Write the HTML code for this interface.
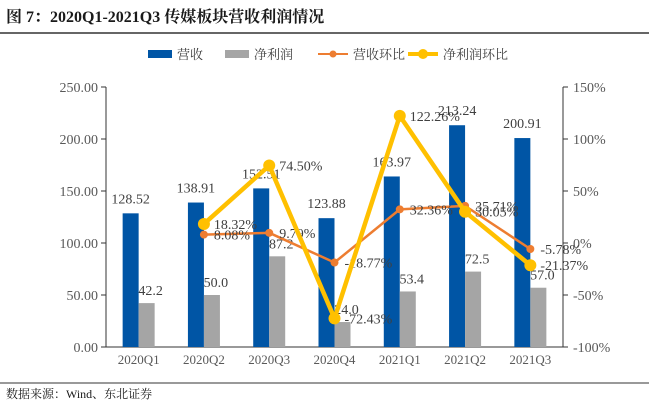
<!DOCTYPE html>
<html><head><meta charset="utf-8"><style>
body{margin:0;background:#fff;width:649px;height:402px;overflow:hidden;font-family:"Liberation Serif","Noto Serif CJK SC",serif}
</style></head><body>
<svg width="649" height="402" id="c" font-family="Liberation Serif, Noto Serif CJK SC, serif">
<text x="6" y="22" font-size="16" font-weight="bold" fill="#1a1a1a">图 7：2020Q1-2021Q3 传媒板块营收利润情况</text>
<line x1="0" y1="33" x2="649" y2="33" stroke="#333" stroke-width="1.5"/>
<g font-size="13" fill="#404040">
<rect x="148" y="50" width="24" height="8" fill="#0055a5"/>
<text x="177" y="59">营收</text>
<rect x="225" y="50" width="24" height="8" fill="#a5a5a5"/>
<text x="254" y="59">净利润</text>
<line x1="318" y1="54" x2="348" y2="54" stroke="#ed7d31" stroke-width="2"/>
<circle cx="333" cy="54" r="3.5" fill="#ed7d31"/>
<text x="353" y="59">营收环比</text>
<line x1="408" y1="54" x2="438" y2="54" stroke="#ffc000" stroke-width="4"/>
<circle cx="423" cy="54" r="5" fill="#ffc000"/>
<text x="443" y="59">净利润环比</text>
</g>
<line x1="0" y1="383" x2="649" y2="383" stroke="#333" stroke-width="1"/>
<text x="6" y="398" font-size="12" fill="#1a1a1a">数据来源：Wind、东北证券</text>
<g id="plot"></g>
</svg>
<script>
const categories=["2020Q1","2020Q2","2020Q3","2020Q4","2021Q1","2021Q2","2021Q3"];
const revenue=[128.52,138.91,152.51,123.88,163.97,213.24,200.91];
const profit=[42.2,50.0,87.2,24.0,53.4,72.5,57.0];
const revGrowth=[null,8.08,9.79,-18.77,32.36,35.71,-5.78];
const profitGrowth=[null,18.32,74.50,-72.43,122.26,30.05,-21.37];
const leftTicks=["0.00","50.00","100.00","150.00","200.00","250.00"];
const rightTicks=["-100%","-50%","0%","50%","100%","150%"];
const NS="http://www.w3.org/2000/svg";
const g=document.getElementById('plot');
const x0=106,x1=563,yB=347,yT=87;
const step=(x1-x0)/categories.length;
const cx=i=>x0+step*(i+0.5);
const yL=v=>yB-(v/250)*(yB-yT);
const yR=v=>yB-((v+100)/250)*(yB-yT);
function el(t,a,txt){const e=document.createElementNS(NS,t);for(const k in a)e.setAttribute(k,a[k]);if(txt!=null)e.textContent=txt;g.appendChild(e);return e;}
let e;
e=el('line',{x1:x0,y1:yT,x2:x0,y2:yB,stroke:'#333'});


e=el('line',{x1:x1,y1:yT,x2:x1,y2:yB,stroke:'#333'});


e=el('line',{x1:x0,y1:yB,x2:x1,y2:yB,stroke:'#333'});


leftTicks.forEach((t,i)=>{const y=yL(parseFloat(t));
el('line',{x1:x0-5,y1:y,x2:x0,y2:y,stroke:'#333'});
e=el('text',{x:x0-8,y:y+5,'text-anchor':'end','font-size':14,fill:'#595959'},t);

});
rightTicks.forEach((t,i)=>{const y=yR(parseFloat(t));
el('line',{x1:x1,y1:y,x2:x1+5,y2:y,stroke:'#333'});
e=el('text',{x:x1+10,y:y+5,'font-size':14,fill:'#595959'},t);

});
categories.forEach((c,i)=>{
e=el('text',{x:cx(i),y:yB+17,'text-anchor':'middle','font-size':13,fill:'#595959'},c);


e=el('rect',{x:cx(i)-16,y:yL(revenue[i]),width:16,height:yB-yL(revenue[i]),fill:'#0055a5'});


e=el('rect',{x:cx(i),y:yL(profit[i]),width:16,height:yB-yL(profit[i]),fill:'#a5a5a5'});


e=el('text',{x:cx(i)-8,y:yL(revenue[i])-10,'text-anchor':'middle','font-size':14,fill:'#404040'},revenue[i].toFixed(2));


e=el('text',{x:cx(i)+12,y:yL(profit[i])-8,'text-anchor':'middle','font-size':14,fill:'#404040'},profit[i].toFixed(1));


});
function series(arr,color,w,r,name){
const pts=[];arr.forEach((v,i)=>{if(v!=null)pts.push([cx(i),yR(v),v]);});
e=el('polyline',{points:pts.map(p=>p[0]+','+p[1]).join(' '),fill:'none',stroke:color,'stroke-width':w,'stroke-linejoin':'round'});


pts.forEach(p=>{
e=el('circle',{cx:p[0],cy:p[1],r:r,fill:color});


e=el('text',{x:p[0]+10,y:p[1]+5,'font-size':14,fill:'#404040'},p[2].toFixed(2)+'%');

});
}
series(revGrowth,'#ed7d31',2.5,4,'rev-growth');
series(profitGrowth,'#ffc000',4.5,6,'profit-growth');
</script>
</body></html>
